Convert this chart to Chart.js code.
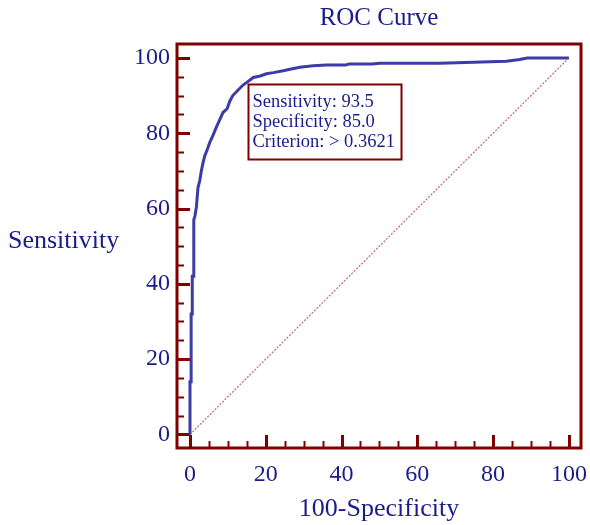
<!DOCTYPE html>
<html><head><meta charset="utf-8">
<script src="https://cdn.jsdelivr.net/npm/chart.js@4"></script>
<style>html,body{margin:0;padding:0;background:#fff;}#wrap{width:590px;height:525px;}</style>
</head><body><div id="wrap"><canvas id="c" width="590" height="525"></canvas></div>
<script>
// ROC curve points (100-Specificity, Sensitivity)
const fpr = [0, 0, 0.3, 0.3, 0.6, 0.6, 1.0, 1.0, 1.3, 1.7, 2.1, 2.6, 3.0, 3.4, 3.9, 4.5, 5.2, 6.1, 6.9, 7.8, 8.7, 9.8, 10.5, 11.3, 12.7, 14.0, 15.0, 16.7, 18.5, 20.2, 22.0, 24.6, 26.4, 29.0, 32.5, 36.0, 41.0, 42.0, 48.0, 50.0, 58.0, 66.0, 77.0, 83.5, 87.0, 89.0, 100];
const tpr = [0, 14, 14, 32, 32, 42, 42, 57, 58, 60.5, 65.5, 67.5, 70, 72, 74, 75.5, 77.5, 79.5, 81.5, 83.5, 85.5, 86.5, 88.5, 90, 91.5, 92.8, 93.5, 94.8, 95.2, 95.8, 96.1, 96.6, 97.0, 97.5, 97.9, 98.1, 98.1, 98.4, 98.4, 98.6, 98.6, 98.6, 98.9, 99.1, 99.6, 100, 100];
// reference diagonal
const diagX = [0, 100];
const diagY = [0, 100];
// ticks
const majorTicks = [0, 20, 40, 60, 80, 100];
const minorTicks = [5, 10, 15, 25, 30, 35, 45, 50, 55, 65, 70, 75, 85, 90, 95];
// texts
const chartTitle = 'ROC Curve';
const xTitle = '100-Specificity';
const yTitle = 'Sensitivity';
const criterionPoint = [15.0, 93.5];
const boxLines = ['Sensitivity: 93.5', 'Specificity: 85.0', 'Criterion: > 0.3621'];

const FONT = "'Liberation Serif', 'Times New Roman', serif";
const TXT = '#1b1b8b';
const FRAME = '#800000';

const framePlugin = {
  id: 'frame',
  beforeDatasetsDraw(chart) {
    const ctx = chart.ctx, a = chart.chartArea;
    const xs = chart.scales.x, ys = chart.scales.y;
    ctx.save();
    ctx.strokeStyle = FRAME;
    ctx.lineWidth = 3;
    ctx.strokeRect(a.left, a.top, a.right - a.left, a.bottom - a.top);
    const drawT = (vals, len, w) => {
      ctx.lineWidth = w;
      vals.forEach(v => {
        const px = Math.round(xs.getPixelForValue(v)) + 0.5;
        ctx.beginPath(); ctx.moveTo(px, a.bottom); ctx.lineTo(px, a.bottom - len); ctx.stroke();
        const py = Math.round(ys.getPixelForValue(v)) + 0.5;
        ctx.beginPath(); ctx.moveTo(a.left, py); ctx.lineTo(a.left + len, py); ctx.stroke();
      });
    };
    drawT(majorTicks, 13, 3);
    drawT(minorTicks, 7, 2);
    ctx.restore();
  },
  afterDatasetsDraw(chart) {
    const ctx = chart.ctx;
    const xs = chart.scales.x, ys = chart.scales.y;
    ctx.save();
    // y title (horizontal)
    ctx.fillStyle = TXT;
    ctx.font = '26px ' + FONT;
    ctx.textBaseline = 'middle';
    ctx.textAlign = 'left';
    ctx.fillText(yTitle, 8, 241);
    // criterion box
    const bx = Math.round(xs.getPixelForValue(criterionPoint[0])) + 1.5;
    const by = Math.round(ys.getPixelForValue(criterionPoint[1])) + 2.5;
    const bw = 153, bh = 75;
    ctx.fillStyle = '#fff';
    ctx.fillRect(bx, by, bw, bh);
    ctx.strokeStyle = FRAME;
    ctx.lineWidth = 2;
    ctx.strokeRect(bx, by, bw, bh);
    ctx.fillStyle = TXT;
    ctx.font = '18.5px ' + FONT;
    ctx.textBaseline = 'alphabetic';
    boxLines.forEach((t, i) => ctx.fillText(t, bx + 4, by + 22 + i * 20));
    ctx.restore();
  }
};

new Chart(document.getElementById('c'), {
  type: 'scatter',
  data: {
    datasets: [
      {
        data: fpr.map((v, i) => ({x: v, y: tpr[i]})),
        showLine: true, borderColor: '#3c3ca6', borderWidth: 3,
        pointRadius: 0, tension: 0, borderJoinStyle: 'miter'
      },
      {
        data: diagX.map((v, i) => ({x: v, y: diagY[i]})),
        showLine: true, borderColor: '#c46868', borderWidth: 1.2,
        borderDash: [2, 1.5], pointRadius: 0, tension: 0
      }
    ]
  },
  options: {
    responsive: false, animation: false, devicePixelRatio: 1,
    layout: {padding: {left: 0, right: 9, top: 0, bottom: 0}},
    plugins: {legend: {display: false}, tooltip: {enabled: false}, title: {display: false}},
    scales: {
      x: {
        type: 'linear', position: 'bottom', min: -3.43, max: 103.2,
        afterBuildTicks: s => { s.ticks = majorTicks.map(v => ({value: v})); },
        afterFit: s => { s.height = 77; s.paddingLeft = 0; s.paddingRight = 0; },
        grid: {display: false, drawTicks: false}, border: {display: false},
        ticks: {font: {family: FONT, size: 24}, color: TXT, padding: 12, maxRotation: 0},
        title: {display: true, text: xTitle, font: {family: FONT, size: 26}, color: TXT, padding: {top: 2, bottom: 0}}
      },
      x2: {
        type: 'linear', position: 'top', min: -3.43, max: 103.2,
        afterFit: s => { s.height = 44; s.paddingLeft = 0; s.paddingRight = 0; },
        grid: {display: false, drawTicks: false}, border: {display: false},
        ticks: {display: false},
        title: {display: true, text: chartTitle, font: {family: FONT, size: 25}, color: TXT, padding: {top: 3, bottom: 0}}
      },
      y: {
        type: 'linear', position: 'left', min: -3.6, max: 103.7,
        afterBuildTicks: s => { s.ticks = majorTicks.map(v => ({value: v})); },
        afterFit: s => { s.width = 177; s.paddingTop = 0; s.paddingBottom = 0; },
        grid: {display: false, drawTicks: false}, border: {display: false},
        ticks: {font: {family: FONT, size: 24}, color: TXT, padding: 7}
      }
    }
  },
  plugins: [framePlugin]
});
</script></body></html>
